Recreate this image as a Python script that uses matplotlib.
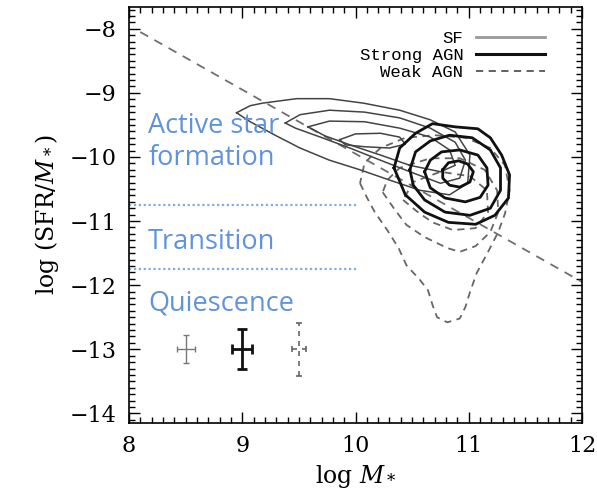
import matplotlib
matplotlib.use('agg')
import matplotlib.pyplot as plt
from matplotlib.ticker import MultipleLocator
from matplotlib.lines import Line2D

# contour outlines (log M*, log SFR/M*)
sf_x = [
    [8.95, 9.07, 9.18, 9.48, 9.77, 10.07, 10.39, 10.66, 10.88, 11.01, 10.99, 10.83, 10.57, 10.30, 10.04, 9.77, 9.51, 9.29, 9.07],
    [9.38, 9.51, 9.77, 10.08, 10.39, 10.66, 10.88, 10.97, 10.92, 10.75, 10.48, 10.22, 9.95, 9.69, 9.47],
    [9.58, 9.77, 10.08, 10.39, 10.66, 10.83, 10.88, 10.75, 10.48, 10.22, 9.95, 9.73],
    [9.86, 10.00, 10.22, 10.39, 10.44, 10.30, 10.08, 9.91],
]
sf_y = [
    [-9.31, -9.20, -9.16, -9.09, -9.09, -9.16, -9.27, -9.42, -9.61, -9.97, -10.41, -10.59, -10.52, -10.36, -10.20, -10.05, -9.86, -9.66, -9.45],
    [-9.47, -9.34, -9.27, -9.30, -9.39, -9.55, -9.77, -10.05, -10.33, -10.41, -10.23, -10.05, -9.86, -9.69, -9.55],
    [-9.53, -9.44, -9.45, -9.55, -9.69, -9.89, -10.13, -10.23, -10.13, -9.97, -9.81, -9.67],
    [-9.73, -9.64, -9.63, -9.69, -9.80, -9.86, -9.84, -9.81],
]
agn_x = [
    [10.77, 10.82, 10.91, 10.99, 11.04, 11.01, 10.92, 10.83, 10.77],
    [10.61, 10.66, 10.76, 10.92, 11.08, 11.16, 11.17, 11.10, 10.97, 10.79, 10.66],
    [10.48, 10.53, 10.66, 10.83, 11.03, 11.19, 11.28, 11.28, 11.19, 11.01, 10.79, 10.61, 10.51],
    [10.34, 10.39, 10.53, 10.68, 10.88, 11.08, 11.19, 11.29, 11.36, 11.35, 11.23, 11.06, 10.82, 10.61, 10.44],
]
agn_y = [
    [-10.20, -10.09, -10.06, -10.11, -10.23, -10.39, -10.47, -10.44, -10.33],
    [-10.23, -10.05, -9.92, -9.89, -9.97, -10.17, -10.44, -10.63, -10.70, -10.64, -10.48],
    [-10.20, -9.92, -9.75, -9.66, -9.70, -9.89, -10.17, -10.52, -10.80, -10.91, -10.86, -10.67, -10.44],
    [-10.17, -9.86, -9.63, -9.48, -9.53, -9.56, -9.70, -9.97, -10.28, -10.64, -10.91, -11.05, -11.02, -10.86, -10.59],
]
weak_x = [
    [10.04, 10.10, 10.17, 10.28, 10.38, 10.45, 10.57, 10.64, 10.68, 10.72, 10.81, 10.92, 10.97, 11.01, 11.07, 11.17, 11.26, 11.32, 11.36, 11.32, 11.19, 10.97, 10.70, 10.44, 10.22, 10.08],
    [10.24, 10.35, 10.45, 10.61, 10.81, 10.92, 11.06, 11.19, 11.26, 11.25, 11.14, 10.92, 10.66, 10.39, 10.28],
    [10.42, 10.55, 10.68, 10.86, 11.06, 11.17, 11.16, 11.01, 10.75, 10.51],
]
weak_y = [
    [-10.41, -10.63, -10.86, -11.14, -11.42, -11.69, -11.92, -12.08, -12.31, -12.50, -12.58, -12.52, -12.34, -12.11, -11.81, -11.48, -11.17, -10.88, -10.52, -10.13, -9.86, -9.70, -9.66, -9.70, -9.86, -10.09],
    [-10.55, -10.83, -11.06, -11.25, -11.42, -11.48, -11.39, -11.17, -10.86, -10.52, -10.20, -10.02, -10.02, -10.17, -10.36],
    [-10.67, -10.86, -11.02, -11.14, -11.11, -10.86, -10.52, -10.30, -10.23, -10.39],
]

# dividing line and zone boundaries
div_x = [8.1, 12.0]
div_y = [-8.05, -11.95]
zone_y = [-10.75, -11.75]
zone_x = [8.0, 10.0]

# typical error bars
err_x = [8.5, 9.0, 9.5]
err_y = [-13.0, -13.0, -13.0]
err_dx = [0.08, 0.09, 0.06]
err_dy = [0.22, 0.31, 0.41]

zone_labels = ['Active star\nformation', 'Transition', 'Quiescence']
zone_label_y = [-9.77, -11.32, -12.29]

blue = '#6093dc'
plt.rcParams['mathtext.fontset'] = 'dejavuserif'

fig = plt.figure(figsize=(5.97, 5.0), dpi=100)
ax = fig.add_axes([0.216, 0.154, 0.759, 0.832])

ax.plot(div_x, div_y, color='#707070', lw=1.3, ls=(0, (5, 4)))
for yy in zone_y:
    ax.plot(zone_x, [yy, yy], color='#86abe4', lw=1.6, ls=(0, (1, 1.2)))

def closed(v):
    return list(v) + [v[0]]

for xs, ys in zip(weak_x, weak_y):
    ax.plot(closed(xs), closed(ys), color='#666666', lw=1.3, ls=(0, (4, 3)))
for xs, ys in zip(sf_x, sf_y):
    ax.plot(closed(xs), closed(ys), color='#444444', lw=1.1)
for xs, ys in zip(agn_x, agn_y):
    ax.plot(closed(xs), closed(ys), color='#111111', lw=2.0)

ax.errorbar(err_x[0], err_y[0], xerr=err_dx[0], yerr=err_dy[0], color='#777777',
            lw=1.0, capsize=2.5, capthick=1.0)
ax.errorbar(err_x[1], err_y[1], xerr=err_dx[1], yerr=err_dy[1], color='#111111',
            lw=2.0, capsize=3.5, capthick=2.0)
eb = ax.errorbar(err_x[2], err_y[2], xerr=err_dx[2], yerr=err_dy[2], color='#666666',
                 lw=1.2, capsize=2.5, capthick=1.2)
for lc in eb[2]:
    lc.set_linestyle((0, (3, 3)))

for lab, yy in zip(zone_labels, zone_label_y):
    ax.text(8.17, yy, lab, color=blue, fontsize=19.5, family='Open Sans',
            ha='left', va='center', linespacing=1.2)

handles = [Line2D([], [], color='#999999', lw=2.0),
           Line2D([], [], color='#111111', lw=2.2),
           Line2D([], [], color='#555555', lw=1.3, ls=(0, (4, 3)))]
ax.legend(handles, ['SF', 'Strong AGN', 'Weak AGN'], loc='upper right',
          bbox_to_anchor=(0.945, 0.972), frameon=False, markerfirst=False,
          prop={'family': 'Liberation Mono', 'size': 12.5}, handlelength=4.0,
          handletextpad=0.7, labelspacing=0.1, borderpad=0.2)

ax.set_xlim(8, 12)
ax.set_ylim(-14.15, -7.66)
ax.xaxis.set_major_locator(MultipleLocator(1))
ax.yaxis.set_major_locator(MultipleLocator(1))
ax.xaxis.set_minor_locator(MultipleLocator(0.1))
ax.yaxis.set_minor_locator(MultipleLocator(0.1))
ax.tick_params(which='both', direction='in', top=True, right=True, width=1.0)
ax.tick_params(which='major', length=8, labelsize=16, pad=9)
ax.tick_params(which='minor', length=4)
for lab in ax.get_xticklabels() + ax.get_yticklabels():
    lab.set_family('DejaVu Serif')
for s in ax.spines.values():
    s.set_linewidth(1.2)

ax.set_xlabel(r'log $M_*$', fontsize=17, family='DejaVu Serif', labelpad=4)
ax.set_ylabel(r'log (SFR/$M_*$)', fontsize=17, family='DejaVu Serif', labelpad=6)

plt.savefig('out.png', dpi=100)
